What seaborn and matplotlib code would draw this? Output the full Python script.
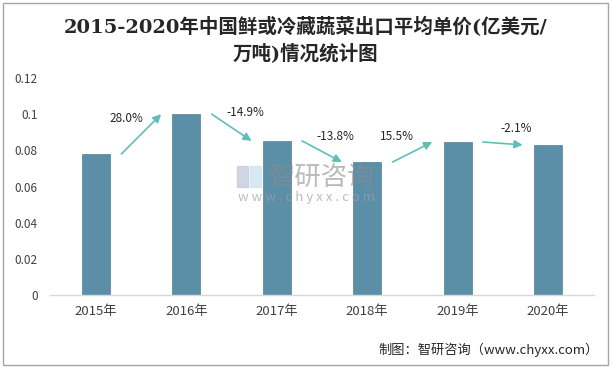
import numpy as np
import pandas as pd
import matplotlib
matplotlib.use("Agg")
import matplotlib.pyplot as plt
import seaborn as sns
from matplotlib.patches import Rectangle

# --- data ---
years = ['2015年', '2016年', '2017年', '2018年', '2019年', '2020年']
price = [0.078, 0.100, 0.0852, 0.0735, 0.0846, 0.0830]
growth = ['28.0%', '-14.9%', '-13.8%', '15.5%', '-2.1%']
yticks = [0, 0.02, 0.04, 0.06, 0.08, 0.1, 0.12]
ytick_labels = ['0', '0.02', '0.04', '0.06', '0.08', '0.1', '0.12']

BAR_COLOR = '#5B8FA8'
ARROW_COLOR = '#5EBFB9'
TEXT_COLOR = '#404040'

sns.set_theme(style='white')
plt.rcParams['font.family'] = ['Noto Sans CJK SC', 'DejaVu Sans']

df = pd.DataFrame({'year': years, 'price': price})

fig = plt.figure(figsize=(6.14, 3.69), dpi=100)
ax = fig.add_axes([50 / 614, 1 - 295 / 369, 544 / 614, 217 / 369])

sns.barplot(data=df, x='year', y='price', color=BAR_COLOR, saturation=1,
            width=0.31, ax=ax, edgecolor='#4F7F96', linewidth=0.5)

ax.set_xlim(-0.51, 5.51)
ax.set_ylim(0, 0.12)
ax.set_yticks(yticks)
ax.set_yticklabels(ytick_labels)
ax.set_xlabel('')
ax.set_ylabel('')
ax.tick_params(axis='y', length=0, pad=9, labelsize=8.5, labelcolor=TEXT_COLOR)
ax.tick_params(axis='x', length=0, pad=7, labelsize=9.5, labelcolor=TEXT_COLOR)
for s in ['left', 'right', 'top']:
    ax.spines[s].set_visible(False)
ax.spines['bottom'].set_color('#D9D9D9')
ax.spines['bottom'].set_linewidth(1)
ax.grid(False)

# --- growth arrows between bars ---
for i, lab in enumerate(growth):
    x0, x1 = i + 0.28, i + 1 - 0.28
    y0, y1 = price[i], price[i + 1]
    ax.annotate('', xy=(x1, y1), xytext=(x0, y0),
                arrowprops=dict(arrowstyle='-|>', color=ARROW_COLOR, lw=1.2,
                                mutation_scale=12, shrinkA=0, shrinkB=0))
    dx = -11 if y1 > y0 else 10
    ax.annotate(lab, xy=((x0 + x1) / 2, (y0 + y1) / 2), xytext=(dx, 11),
                textcoords='offset points', ha='center', va='center',
                fontsize=8.5, color='#262626')

# --- title ---
fig.text(0.497, 1 - 27 / 369, '2015-2020年中国鲜或冷藏蔬菜出口平均单价(亿美元/',
         ha='center', va='center', fontsize=14, fontweight='bold', color='#262626',
         family=['DejaVu Serif', 'Noto Sans CJK SC'])
fig.text(0.497, 1 - 53 / 369, '万吨)情况统计图',
         ha='center', va='center', fontsize=14, fontweight='bold', color='#262626',
         family=['DejaVu Serif', 'Noto Sans CJK SC'])

# --- watermark ---
fig.patches.append(Rectangle((237 / 614, 1 - 187 / 369), 11 / 614, 21 / 369,
                             transform=fig.transFigure, color='#C5CCDA', alpha=0.8, zorder=5))
fig.patches.append(Rectangle((250 / 614, 1 - 187 / 369), 11 / 614, 21 / 369,
                             transform=fig.transFigure, color='#CFE3F0', alpha=0.8, zorder=5))
fig.text(322 / 614, 1 - 177 / 369, '智研咨询', ha='center', va='center',
         fontsize=19, color='#8C8C8C', alpha=0.6, zorder=6)
fig.text(307 / 614, 1 - 198 / 369, 'w w w . c h y x x . c o m', ha='center', va='center',
         fontsize=9.5, color='#A0A0A0', alpha=0.7, zorder=6)

# --- source note ---
fig.text(599 / 614, 1 - 350 / 369, '制图：智研咨询（www.chyxx.com）', ha='right',
         va='center', fontsize=9.5, color='#262626')

# --- border ---
fig.patches.append(Rectangle((3 / 614, 4 / 369), 605 / 614, 362 / 369,
                             transform=fig.transFigure, fill=False,
                             edgecolor='#A6A6A6', linewidth=1))

fig.savefig('out.png', dpi=100)
